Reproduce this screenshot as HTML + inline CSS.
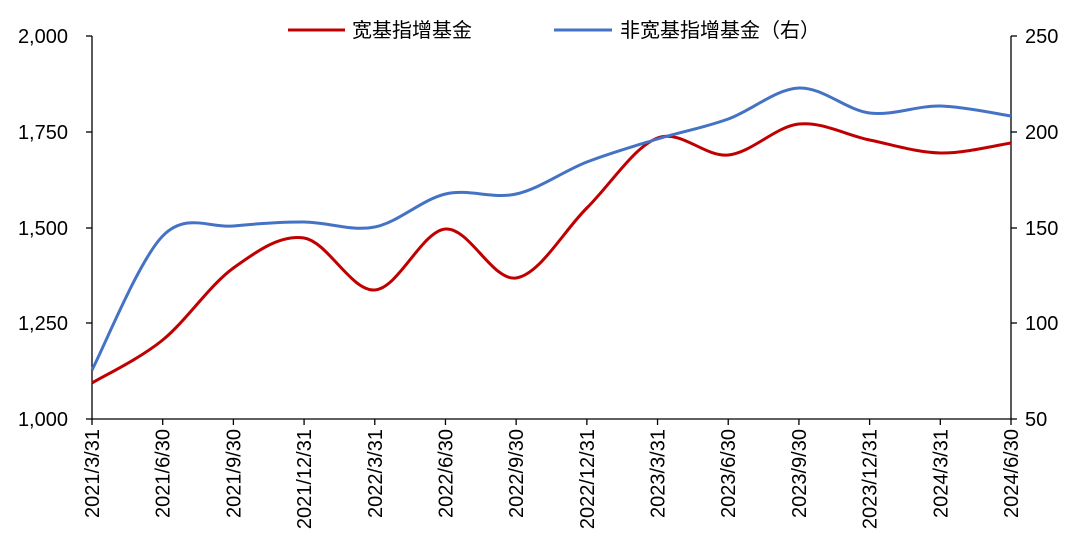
<!DOCTYPE html>
<html><head><meta charset="utf-8"><style>
html,body{margin:0;padding:0;background:#fff;}
svg{display:block;font-family:"Liberation Sans","Noto Sans CJK SC",sans-serif;}
</style></head><body>
<svg id="c" width="1080" height="546" viewBox="0 0 1080 546" xmlns="http://www.w3.org/2000/svg">
<g stroke="#000" stroke-width="1.3" fill="none">
<line x1="92" y1="36" x2="92" y2="419"/>
<line x1="1011" y1="36" x2="1011" y2="419"/>
<line x1="92" y1="419" x2="1011" y2="419"/>
<line x1="86" y1="36" x2="92" y2="36"/><line x1="86" y1="132" x2="92" y2="132"/><line x1="86" y1="228" x2="92" y2="228"/><line x1="86" y1="323" x2="92" y2="323"/><line x1="86" y1="419" x2="92" y2="419"/>
<line x1="1011" y1="36" x2="1017" y2="36"/><line x1="1011" y1="132" x2="1017" y2="132"/><line x1="1011" y1="228" x2="1017" y2="228"/><line x1="1011" y1="323" x2="1017" y2="323"/><line x1="1011" y1="419" x2="1017" y2="419"/>
</g>
<g id="xt" stroke="#000" stroke-width="1.3"></g>
<g font-size="20" fill="#000" text-anchor="end">
<text x="68" y="43">2,000</text><text x="68" y="139">1,750</text><text x="68" y="235">1,500</text><text x="68" y="330">1,250</text><text x="68" y="426">1,000</text>
</g>
<g font-size="20" fill="#000" text-anchor="start">
<text x="1025" y="43">250</text><text x="1025" y="139">200</text><text x="1025" y="235">150</text><text x="1025" y="330">100</text><text x="1025" y="426">50</text>
</g>
<g id="xl" font-size="20" fill="#000" text-anchor="end"></g>
<path id="red" fill="none" stroke="#C00000" stroke-width="3"/>
<path id="blue" fill="none" stroke="#4472C4" stroke-width="3"/>
<line x1="288" y1="30" x2="345" y2="30" stroke="#C00000" stroke-width="3"/>
<text x="352" y="37" font-size="20">宽基指增基金</text>
<line x1="554" y1="30" x2="612" y2="30" stroke="#4472C4" stroke-width="3"/>
<text x="620" y="37" font-size="20">非宽基指增基金（右）</text>
</svg>
<script>
var labels=["2021/3/31","2021/6/30","2021/9/30","2021/12/31","2022/3/31","2022/6/30","2022/9/30","2022/12/31","2023/3/31","2023/6/30","2023/9/30","2023/12/31","2024/3/31","2024/6/30"];
var x0=92,dx=(1011-92)/13,ns="http://www.w3.org/2000/svg";
var xt=document.getElementById("xt"),xl=document.getElementById("xl");
labels.forEach(function(l,i){var x=x0+dx*i;
var ln=document.createElementNS(ns,"line");ln.setAttribute("x1",x);ln.setAttribute("x2",x);ln.setAttribute("y1",419);ln.setAttribute("y2",425);xt.appendChild(ln);
var t=document.createElementNS(ns,"text");t.setAttribute("transform","translate("+(x+7)+",429) rotate(-90)");t.textContent=l;xl.appendChild(t);});
function path(ys){var p=ys.map(function(y,i){return [x0+dx*i,y];});var d="M"+p[0][0]+","+p[0][1];
for(var i=0;i<p.length-1;i++){var a=p[i-1]||p[i],b=p[i],c=p[i+1],e=p[i+2]||c;var t=6;
d+=" C"+(b[0]+(c[0]-a[0])/t)+","+(b[1]+(c[1]-a[1])/t)+" "+(c[0]-(e[0]-b[0])/t)+","+(c[1]-(e[1]-b[1])/t)+" "+c[0]+","+c[1];}return d;}
document.getElementById("red").setAttribute("d",path([383,340,268,238,290,229,278,208,138,155,124,140,153,143]));
document.getElementById("blue").setAttribute("d",path([370,236,226,222,227,194,194,162,139,119,88,113,106,116]));
</script>
</body></html>
